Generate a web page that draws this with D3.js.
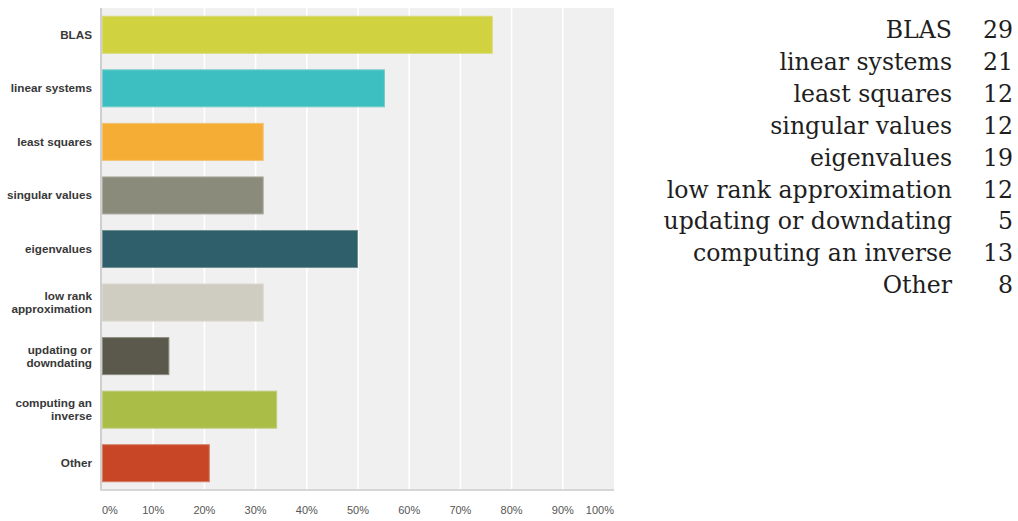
<!DOCTYPE html>
<html>
<head>
<meta charset="utf-8">
<script src="https://cdn.jsdelivr.net/npm/d3@7"></script>
<style>
  html, body { margin: 0; padding: 0; background: #fff; }
  svg { display: block; }
</style>
</head>
<body>
<svg id="chart" width="1018" height="521"></svg>
<script>
// Survey answers: which linear algebra tasks respondents use
const categories = ["BLAS", "linear systems", "least squares", "singular values", "eigenvalues",
  "low rank approximation", "updating or downdating", "computing an inverse", "Other"];
const counts = [29, 21, 12, 12, 19, 12, 5, 13, 8];
const respondents = 38;
const barColors = ["#d0d33f", "#3dbfc1", "#f5ad36", "#8a8b7b", "#2f5f6a",
  "#cfcdc1", "#5b594b", "#aabd46", "#c84626"];
const tickValues = [0, 0.1, 0.2, 0.3, 0.4, 0.5, 0.6, 0.7, 0.8, 0.9, 1.0];

const svg = d3.select("#chart");
const plot = { left: 102, right: 614, top: 8, bottom: 490 };

const x = d3.scaleLinear().domain([0, 1]).range([plot.left, plot.right]);
const y = d3.scaleBand().domain(categories).range([plot.top, plot.bottom])
  .paddingInner(0.29).paddingOuter(0.145);

// plot background
svg.append("rect")
  .attr("x", plot.left).attr("y", plot.top)
  .attr("width", plot.right - plot.left).attr("height", plot.bottom - plot.top)
  .attr("fill", "#f0f0f0");

// vertical gridlines
svg.append("g").selectAll("line")
  .data(tickValues.slice(1, -1))
  .join("line")
  .attr("x1", d => x(d)).attr("x2", d => x(d))
  .attr("y1", plot.top).attr("y2", plot.bottom)
  .attr("stroke", "#ffffff").attr("stroke-width", 1.6);

// bars
svg.append("g").selectAll("rect")
  .data(categories)
  .join("rect")
  .attr("x", x(0) + 0.5)
  .attr("y", d => y(d) + 0.5)
  .attr("width", (d, i) => x(counts[i] / respondents) - x(0) - 1)
  .attr("height", y.bandwidth() - 1)
  .attr("fill", (d, i) => barColors[i])
  .attr("stroke", (d, i) => d3.interpolateRgb(barColors[i], "#e8e8e0")(0.35))
  .attr("stroke-width", 1);

// axis lines
svg.append("line")
  .attr("x1", plot.left - 1).attr("x2", plot.left - 1)
  .attr("y1", plot.top).attr("y2", plot.bottom + 1)
  .attr("stroke", "#cfcfcf").attr("stroke-width", 2);
svg.append("line")
  .attr("x1", plot.left - 2).attr("x2", plot.right)
  .attr("y1", plot.bottom).attr("y2", plot.bottom)
  .attr("stroke", "#d6d6d6").attr("stroke-width", 2);

// x tick labels: first left-aligned, last right-aligned
const fmt = d3.format(".0%");
svg.append("g").selectAll("text")
  .data(tickValues)
  .join("text")
  .attr("x", d => x(d))
  .attr("y", 514)
  .attr("text-anchor", (d, i) => i === 0 ? "start" : (i === tickValues.length - 1 ? "end" : "middle"))
  .attr("font-family", "Liberation Sans, Arial, sans-serif")
  .attr("font-size", 11)
  .attr("fill", "#555")
  .text(d => fmt(d));

// category labels, wrapped to fit the left margin
const labelG = svg.append("g")
  .attr("font-family", "Liberation Sans, Arial, sans-serif")
  .attr("font-size", 11.7)
  .attr("font-weight", "bold")
  .attr("fill", "#383838")
  .attr("text-anchor", "end");

const maxLabelWidth = 90;
categories.forEach(cat => {
  const t = labelG.append("text").attr("x", 92);
  const probe = t.append("tspan");
  const words = cat.split(" ");
  const lines = [];
  let line = [];
  words.forEach(w => {
    const attempt = line.concat(w).join(" ");
    probe.text(attempt);
    if (probe.node().getComputedTextLength() > maxLabelWidth && line.length) {
      lines.push(line.join(" "));
      line = [w];
    } else {
      line.push(w);
    }
  });
  lines.push(line.join(" "));
  probe.remove();
  const lh = 13;
  const cy = y(cat) + y.bandwidth() / 2;
  lines.forEach((ln, k) => {
    t.append("tspan")
      .attr("x", 92)
      .attr("y", cy + 4 + (k - (lines.length - 1) / 2) * lh)
      .text(ln);
  });
});

// count table on the right
const table = svg.append("g")
  .attr("font-family", "DejaVu Serif, serif")
  .attr("font-size", 23.6)
  .attr("fill", "#1e1e1e");
const rowStep = 31.9;
table.selectAll("text.name")
  .data(categories)
  .join("text")
  .attr("class", "name")
  .attr("x", 952)
  .attr("y", (d, i) => 38 + i * rowStep)
  .attr("text-anchor", "end")
  .text(d => d);
table.selectAll("text.count")
  .data(counts)
  .join("text")
  .attr("class", "count")
  .attr("x", 1013)
  .attr("y", (d, i) => 38 + i * rowStep)
  .attr("text-anchor", "end")
  .text(d => d);
</script>
</body>
</html>
